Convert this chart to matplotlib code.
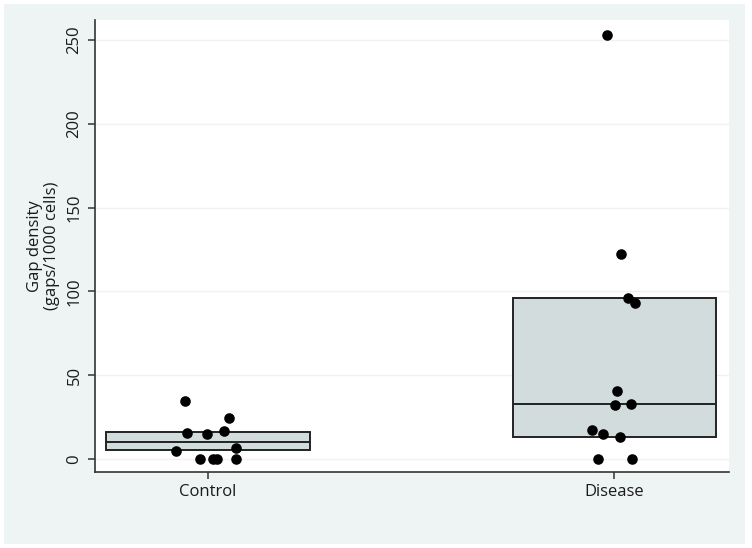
import matplotlib
matplotlib.use("Agg")
import matplotlib.pyplot as plt
from matplotlib.patches import Rectangle

plt.rcParams['font.family'] = ['Open Sans', 'DejaVu Sans']

groups = ["Control", "Disease"]
positions = [1, 2]
q1 = [5.4, 13.1]
medians = [10.1, 32.7]
q3 = [16.1, 95.8]

control_vals = [34.7, 24.8, 15.3, 14.9, 16.9, 4.9, 6.4, 0, 0, 0, 0]
control_jitter = [-0.057, 0.051, -0.051, -0.002, 0.039, -0.079, 0.069, -0.020, 0.013, 0.023, 0.069]
disease_vals = [253, 122.2, 96.2, 93.1, 40.7, 32.1, 32.9, 17.5, 15.1, 13.3, 0, 0]
disease_jitter = [-0.017, 0.016, 0.033, 0.050, 0.007, 0.002, 0.042, -0.054, -0.029, 0.015, -0.041, 0.043]

yticks = [0, 50, 100, 150, 200, 250]

fig = plt.figure(figsize=(7.52, 5.48), dpi=100, facecolor='white')
fig.patches.append(Rectangle((4/752, 4/548), 741/752, 540/548, transform=fig.transFigure,
                             facecolor='#eef3f3', edgecolor='none', zorder=-10))
ax = fig.add_axes([95/752, 1 - 472/548, 634/752, 452/548])
ax.set_facecolor('white')

stats = []
for i, g in enumerate(groups):
    stats.append(dict(label=g, q1=q1[i], med=medians[i], q3=q3[i],
                      whislo=q1[i], whishi=q3[i], fliers=[]))
ax.bxp(stats, positions=positions, widths=0.5, showcaps=False, showfliers=False,
       patch_artist=True,
       boxprops=dict(facecolor='#d3dcdc', edgecolor='#222222', linewidth=1.4),
       medianprops=dict(color='#222222', linewidth=1.4),
       whiskerprops=dict(linewidth=0), zorder=2)

ax.scatter([positions[0] + j for j in control_jitter], control_vals, s=58, color='black', zorder=3, linewidths=0)
ax.scatter([positions[1] + j for j in disease_jitter], disease_vals, s=58, color='black', zorder=3, linewidths=0)

ax.set_xlim(0.722, 2.282)
ax.set_ylim(-7.7, 261.9)
ax.set_yticks(yticks)
ax.set_yticklabels([str(v) for v in yticks], rotation=90, va='center', fontsize=12, color='#1a1a1a')
ax.set_xticks(positions)
ax.set_xticklabels(groups, fontsize=12, color='#1a1a1a')
ax.grid(axis='y', color='#f0f2f2', linewidth=1)
ax.set_axisbelow(True)

for s in ['top', 'right']:
    ax.spines[s].set_visible(False)
for s in ['left', 'bottom']:
    ax.spines[s].set_color('#333333')
    ax.spines[s].set_linewidth(1.2)
ax.tick_params(axis='both', direction='out', length=5, width=1.1, color='#333333', pad=4)

ax.set_ylabel("Gap density\n(gaps/1000 cells)", fontsize=12, color='#1a1a1a', labelpad=5, linespacing=1.05)

fig.savefig("out.png", dpi=100, facecolor=fig.get_facecolor())
